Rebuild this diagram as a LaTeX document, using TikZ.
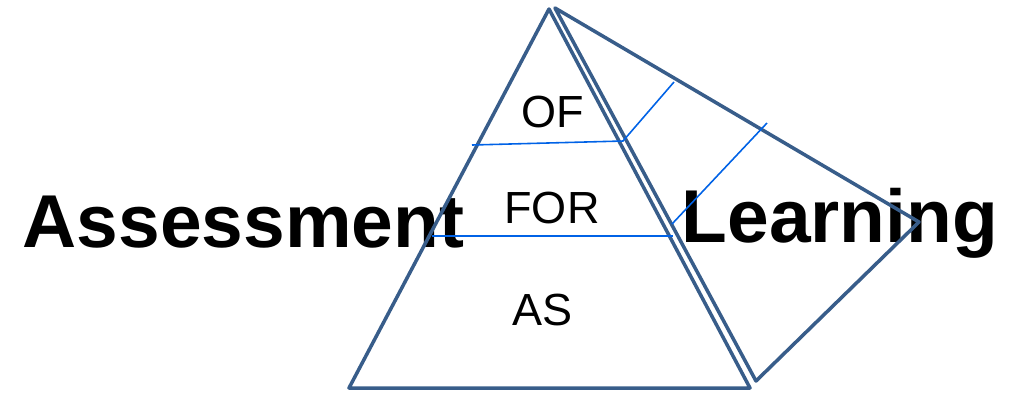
\documentclass[tikz,border=0pt]{standalone}
\usepackage{fontspec}
\setmainfont{Liberation Sans}
\usetikzlibrary{positioning}
\definecolor{edgeblue}{RGB}{56,93,138}
\definecolor{lineblue}{RGB}{0,98,230}

\begin{document}
\begin{tikzpicture}[x=0.01cm,y=-0.01cm,
	edge/.style={draw=edgeblue,line width=1pt,line join=round},
	tier/.style={draw=lineblue,line width=0.45pt},
	level/.style={font=\fontsize{12.8}{14}\selectfont,inner sep=0pt,anchor=base},
	word/.style={font=\fontsize{21.3}{24}\selectfont\bfseries,inner sep=0pt,anchor=base west}]
	\useasboundingbox (0,0) rectangle (1017,393);
	
	% words
	\node[word] (assess) at (22,247) {Assessment};
	\node[word] (learn) at (681,242) {Learning};
	
	% levels
	\node[level] (of) at (553,127) {OF};
	\node[level] (for) at (552,223) {FOR};
	\node[level] (as) at (543,325) {AS};
	
	% front face
	\coordinate (T) at (549,9);
	\coordinate (L) at (349,388);
	\coordinate (R) at (750,388);
	\draw[edge] (T)--(L)--(R)--cycle;
	
	% side face
	\coordinate (T2) at (555,8);
	\coordinate (P) at (919,222);
	\coordinate (B2) at (756,381);
	\draw[edge] (T2)--(P)--(B2)--cycle;
	
	% tier lines
	\coordinate (a1) at (472,145);
	\coordinate (a2) at (623,141);
	\coordinate (a3) at (674,82);
	\draw[tier] (a1)--(a2)--(a3);
	
	\coordinate (b1) at (432,236);
	\coordinate (b2) at (673,236);
	\draw[tier] (b1)--(b2);
	\coordinate (c1) at (672,224);
	\coordinate (c2) at (767,123);
	\draw[tier] (c1)--(c2);
\end{tikzpicture}
\end{document}
